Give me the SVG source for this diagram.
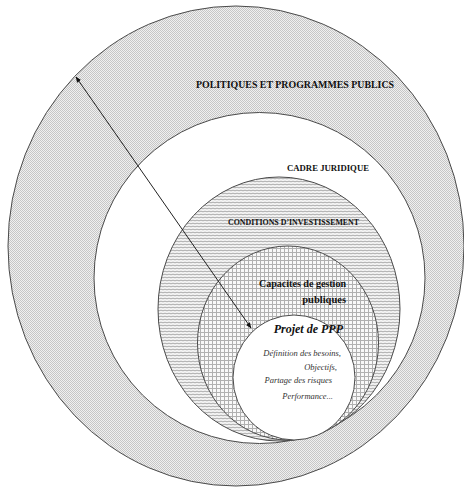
<svg xmlns="http://www.w3.org/2000/svg" width="464" height="488" viewBox="0 0 464 488">
  <defs>
    <pattern id="dots" width="2" height="2" patternUnits="userSpaceOnUse">
      <rect width="2" height="2" fill="#f0f0f0"/>
      <rect width="1" height="1" fill="#c6c6c6"/>
      <rect x="1" y="1" width="1" height="1" fill="#c6c6c6"/>
    </pattern>
    <pattern id="hlines" width="4" height="3" patternUnits="userSpaceOnUse">
      <rect width="4" height="3" fill="#f4f4f4"/>
      <path d="M0,1.5 Q1,0.8 2,1.5 T4,1.5" fill="none" stroke="#a0a0a0" stroke-width="0.9"/>
    </pattern>
    <pattern id="grid" width="4" height="4" patternUnits="userSpaceOnUse">
      <rect width="4" height="4" fill="#f8f8f8"/>
      <path d="M0,0.5 H4 M0.5,0 V4" fill="none" stroke="#b0b0b0" stroke-width="1"/>
    </pattern>
    <marker id="ah" viewBox="0 0 10 10" refX="9" refY="5" markerWidth="6" markerHeight="6" orient="auto-start-reverse" markerUnits="userSpaceOnUse">
      <path d="M0,1 L10,5 L0,9 Z" fill="#111"/>
    </marker>
    <style>
      .ring { stroke: #4a4a4a; stroke-width: 1; }
      .t { font-family: "Liberation Serif", "Times New Roman", serif; fill: #111; }
      .b { font-weight: bold; }
      .i { font-style: italic; }
      .s { fill: #333; font-size: 8.5px; }
    </style>
  </defs>

  <rect width="464" height="488" fill="#ffffff"/>

  <g id="politiques">
    <ellipse class="ring" cx="236" cy="246" rx="228" ry="240" fill="url(#dots)"/>
    <text class="t b" x="196" y="88" font-size="10" textLength="198" lengthAdjust="spacingAndGlyphs">POLITIQUES ET PROGRAMMES PUBLICS</text>
  </g>

  <g id="cadre">
    <ellipse class="ring" cx="259.5" cy="278" rx="165.5" ry="165.5" fill="#ffffff"/>
    <text class="t b" x="287" y="171" font-size="8.5" textLength="82" lengthAdjust="spacingAndGlyphs">CADRE JURIDIQUE</text>
  </g>

  <g id="conditions">
    <ellipse class="ring" cx="279" cy="309" rx="121" ry="132" fill="url(#hlines)"/>
    <text class="t b" x="228" y="225" font-size="8" textLength="131" lengthAdjust="spacingAndGlyphs">CONDITIONS D’INVESTISSEMENT</text>
  </g>

  <g id="capacites">
    <ellipse class="ring" cx="288" cy="343" rx="90.5" ry="97" fill="url(#grid)"/>
    <text class="t b" x="346" y="287" font-size="10.5" text-anchor="end" textLength="87" lengthAdjust="spacingAndGlyphs">Capacites de gestion</text>
    <text class="t b" x="346" y="303" font-size="10.5" text-anchor="end">publiques</text>
  </g>

  <g id="projet">
    <ellipse class="ring" cx="294" cy="377.5" rx="61" ry="62.5" fill="#ffffff"/>
    <text class="t b i" x="343" y="333" font-size="12" text-anchor="end">Projet de PPP</text>
    <text class="t i s" x="341" y="356" text-anchor="end">Définition des besoins,</text>
    <text class="t i s" x="337" y="370" text-anchor="end">Objectifs,</text>
    <text class="t i s" x="332" y="383" text-anchor="end">Partage des risques</text>
    <text class="t i s" x="333" y="399" text-anchor="end">Performance...</text>
  </g>

  <g id="connectors">
    <line x1="76" y1="77" x2="251" y2="328" stroke="#222" stroke-width="1" marker-start="url(#ah)" marker-end="url(#ah)"/>
  </g>
</svg>
